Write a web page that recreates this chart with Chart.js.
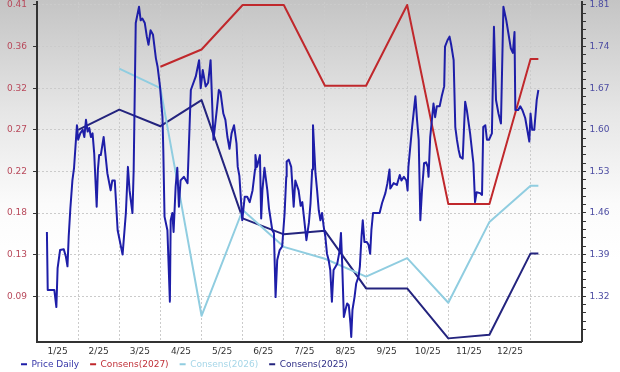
<!DOCTYPE html>
<html>
<head>
<meta charset="utf-8">
<script src="https://cdn.jsdelivr.net/npm/chart.js"></script>
<style>
  html, body { margin: 0; padding: 0; background: #fff; }
  #grafico { display: block; background: linear-gradient(to bottom, #c4c4c4 0%, #e6e6e6 30%, #fbfbfb 55%, #ffffff 70%); }
</style>
</head>
<body>
<canvas id="grafico" width="620" height="372"></canvas>
<script>

// Etiquetas del eje x (una por mes, centradas en el mes)
const mesesEtiquetas = ['1/25','2/25','3/25','4/25','5/25','6/25','7/25','8/25','9/25','10/25','11/25','12/25'];

// Ticks de los ejes
const ticksPrecio = ['0.41','0.36','0.32','0.27','0.22','0.18','0.13','0.09'];
const valoresTicksPrecio = [0.408, 0.362, 0.316, 0.270, 0.224, 0.178, 0.132, 0.086];
const ticksConsenso = ['1.81','1.74','1.67','1.60','1.53','1.46','1.39','1.32'];

// Precio diario (x = meses desde 1/1/2025)
const precioMes = [
  0.24,0.26,0.42,0.47,0.50,0.56,0.65,0.70,0.74,0.77,
  0.81,0.86,0.90,0.97,1.00,1.05,1.11,1.15,1.19,1.23,
  1.27,1.31,1.35,1.39,1.45,1.48,1.51,1.55,1.62,1.66,
  1.71,1.79,1.83,1.89,1.96,2.08,2.16,2.21,2.25,2.32,
  2.35,2.40,2.48,2.52,2.56,2.62,2.67,2.71,2.76,2.82,
  2.89,2.93,2.99,3.05,3.07,3.10,3.17,3.23,3.25,3.29,
  3.32,3.37,3.41,3.45,3.49,3.57,3.66,3.74,3.86,3.94,
  3.98,4.03,4.10,4.16,4.22,4.29,4.38,4.42,4.46,4.53,
  4.58,4.63,4.68,4.73,4.79,4.85,4.88,4.92,4.99,5.05,
  5.11,5.17,5.24,5.30,5.31,5.35,5.42,5.45,5.48,5.53,
  5.60,5.64,5.72,5.76,5.80,5.84,5.90,5.96,6.02,6.06,
  6.07,6.12,6.18,6.24,6.28,6.36,6.41,6.45,6.55,6.61,
  6.65,6.69,6.71,6.77,6.81,6.85,6.89,6.93,6.97,7.01,
  7.05,7.09,7.13,7.17,7.21,7.30,7.36,7.39,7.42,7.46,
  7.50,7.54,7.58,7.62,7.64,7.67,7.72,7.76,7.82,7.85,
  7.89,7.92,7.96,8.02,8.06,8.10,8.13,8.17,8.33,8.39,
  8.47,8.52,8.57,8.59,8.67,8.75,8.82,8.86,8.92,8.98,
  9.01,9.03,9.12,9.20,9.24,9.28,9.32,9.36,9.40,9.41,
  9.46,9.50,9.52,9.56,9.64,9.68,9.72,9.79,9.84,9.90,
  9.92,9.98,10.03,10.07,10.13,10.17,10.21,10.25,10.29,10.35,
  10.41,10.45,10.53,10.61,10.65,10.69,10.77,10.82,10.85,10.90,
  10.94,10.99,11.06,11.11,11.16,11.22,11.28,11.34,11.41,11.46,
  11.52,11.57,11.61,11.63,11.70,11.75,11.80,11.87,11.92,11.97,
  12.00,12.04,12.09,12.15,12.19
];
const precioValor = [
  0.157,0.093,0.093,0.074,0.117,0.137,0.138,0.130,0.119,0.152,
  0.183,0.214,0.228,0.275,0.259,0.266,0.270,0.262,0.281,0.268,
  0.272,0.262,0.266,0.244,0.185,0.226,0.242,0.242,0.262,0.244,
  0.222,0.203,0.214,0.214,0.159,0.132,0.178,0.229,0.203,0.178,
  0.226,0.388,0.406,0.391,0.393,0.388,0.373,0.364,0.380,0.375,
  0.349,0.340,0.318,0.284,0.248,0.174,0.159,0.080,0.170,0.178,
  0.157,0.207,0.228,0.185,0.214,0.218,0.211,0.314,0.329,0.347,
  0.316,0.336,0.318,0.322,0.347,0.259,0.296,0.314,0.312,0.288,
  0.281,0.262,0.249,0.266,0.275,0.255,0.229,0.219,0.170,0.196,
  0.196,0.190,0.203,0.226,0.242,0.229,0.242,0.172,0.203,0.228,
  0.203,0.183,0.159,0.156,0.085,0.126,0.137,0.141,0.178,0.218,
  0.235,0.237,0.229,0.185,0.214,0.203,0.186,0.190,0.148,0.167,
  0.189,0.226,0.275,0.222,0.203,0.181,0.170,0.178,0.163,0.152,
  0.133,0.126,0.115,0.080,0.115,0.122,0.137,0.156,0.122,0.063,
  0.071,0.078,0.076,0.056,0.041,0.071,0.085,0.100,0.108,0.119,
  0.152,0.170,0.146,0.146,0.143,0.133,0.159,0.178,0.178,0.189,
  0.200,0.211,0.226,0.205,0.211,0.209,0.220,0.214,0.218,0.214,
  0.203,0.229,0.273,0.307,0.281,0.259,0.170,0.203,0.226,0.233,
  0.234,0.229,0.218,0.262,0.299,0.284,0.296,0.296,0.307,0.318,
  0.362,0.369,0.373,0.364,0.347,0.273,0.259,0.248,0.240,0.238,
  0.301,0.292,0.266,0.233,0.190,0.201,0.200,0.198,0.273,0.275,
  0.259,0.259,0.266,0.384,0.303,0.288,0.277,0.406,0.391,0.377,
  0.360,0.355,0.378,0.292,0.292,0.296,0.292,0.283,0.270,0.257,
  0.288,0.270,0.270,0.303,0.314
];

// Consensos (eje derecho)
const mes2027 = [3,4,5,6,7,8,9,10,11,12,12.19];
const cons2027 = [1.706,1.735,1.81,1.81,1.674,1.674,1.81,1.475,1.475,1.719,1.719];
const mes2026 = [2,3,4,5,6,7,8,9,10,11,12,12.19];
const cons2026 = [1.703,1.670,1.287,1.465,1.403,1.383,1.353,1.384,1.309,1.445,1.506,1.506];
const mes2025 = [1,2,3,4,5,6,7,8,9,10,11,12,12.19];
const cons2025 = [1.600,1.634,1.606,1.650,1.451,1.424,1.430,1.333,1.333,1.249,1.255,1.392,1.392];

const puntos = (xs, ys) => xs.map((x, i) => ({x: x, y: ys[i]}));

const fuente = {family: 'DejaVu Sans', size: 9};
const sinPadding = (s) => { s.paddingTop = 0; s.paddingBottom = 0; s.paddingLeft = 0; s.paddingRight = 0; };

// la leyenda va pegada debajo de las etiquetas del eje x
const ajusteLeyenda = {
  id: 'ajusteLeyenda',
  beforeInit(chart) {
    const fitOriginal = chart.legend.fit;
    chart.legend.fit = function () {
      fitOriginal.call(this);
      this.height = 10.5;
    };
  },
  afterLayout(chart) {
    const leyenda = chart.legend;
    leyenda.top = chart.chartArea.bottom + 7;
    leyenda.bottom = chart.height;
    leyenda.left += 9;
  }
};

const datos = {
  datasets: [{
    label: 'Price Daily',
    data: puntos(precioMes, precioValor),
    yAxisID: 'yPrecio',
    borderColor: '#1e1ea8',
    textoColor: '#3535a8',
    borderWidth: 2
  }, {
    label: 'Consens(2027)',
    data: puntos(mes2027, cons2027),
    yAxisID: 'yConsenso',
    borderColor: '#c0282c',
    textoColor: '#c03038',
    borderWidth: 2
  }, {
    label: 'Consens(2026)',
    data: puntos(mes2026, cons2026),
    yAxisID: 'yConsenso',
    borderColor: '#90cde0',
    textoColor: '#a6d6e8',
    borderWidth: 2
  }, {
    label: 'Consens(2025)',
    data: puntos(mes2025, cons2025),
    yAxisID: 'yConsenso',
    borderColor: '#24247e',
    textoColor: '#2e2e86',
    borderWidth: 2
  }]
};

var grafico = new Chart(document.getElementById('grafico'), {
  type: 'line',
  data: datos,
  plugins: [ajusteLeyenda],
  options: {
    responsive: false,
    animation: false,
    devicePixelRatio: 1,
    layout: {padding: {left: 1, right: 7, top: 2, bottom: 0}},
    elements: {
      point: {radius: 0, hoverRadius: 0},
      line: {tension: 0, borderJoinStyle: 'round'}
    },
    plugins: {
      tooltip: {enabled: false},
      legend: {
        position: 'bottom',
        align: 'start',
        labels: {
          boxWidth: 6,
          boxHeight: 2,
          padding: 11,
          font: fuente,
          generateLabels: (chart) => chart.data.datasets.map((ds, i) => ({
            text: ds.label,
            fillStyle: ds.borderColor,
            strokeStyle: ds.borderColor,
            lineWidth: 0,
            fontColor: ds.textoColor,
            hidden: false,
            datasetIndex: i
          }))
        }
      }
    },
    scales: {
      x: {
        type: 'linear',
        min: 0,
        max: 13.25,
        afterBuildTicks: (s) => {
          const t = [];
          mesesEtiquetas.forEach((m, i) => {
            t.push({value: i + 0.5});
            t.push({value: i + 1});
          });
          s.ticks = t;
        },
        afterFit: sinPadding,
        ticks: {
          autoSkip: false,
          maxRotation: 0,
          padding: 4.5,
          font: fuente,
          color: '#333',
          callback: (v) => Number.isInteger(v) ? '' : mesesEtiquetas[Math.floor(v)]
        },
        grid: {
          drawTicks: false,
          color: (ctx) => ctx.tick && Number.isInteger(ctx.tick.value) ? '#cbcbcb' : 'rgba(0,0,0,0)'
        },
        border: {display: true, color: '#333', width: 2, dash: [2, 2]}
      },
      yPrecio: {
        type: 'linear',
        position: 'left',
        min: 0.0357,
        max: 0.4113,
        afterBuildTicks: (s) => { s.ticks = valoresTicksPrecio.map(v => ({value: v})); },
        afterFit: sinPadding,
        ticks: {
          autoSkip: false,
          padding: 6,
          font: fuente,
          color: '#b8485a',
          callback: (v, i) => ticksPrecio[i]
        },
        grid: {color: '#cbcbcb', tickLength: 4, tickColor: '#333', tickBorderDash: []},
        border: {display: true, color: '#333', width: 2, dash: [2, 2]}
      },
      yConsenso: {
        type: 'linear',
        position: 'right',
        min: 1.2434,
        max: 1.815,
        afterBuildTicks: (s) => {
          const t = [];
          const arriba = parseFloat(ticksConsenso[0]);
          for (let k = 0; k <= 40; k++) t.push({value: arriba - k * 0.014});
          s.ticks = t;
        },
        afterFit: sinPadding,
        ticks: {
          autoSkip: false,
          padding: 3.5,
          font: fuente,
          color: '#4c4ca2',
          callback: (v, i) => i % 5 === 0 ? ticksConsenso[i / 5] : ''
        },
        grid: {drawOnChartArea: false, tickLength: 4, tickColor: '#333', color: '#333'},
        border: {display: true, color: '#333', width: 2}
      }
    }
  }
});

</script>
</body>
</html>
